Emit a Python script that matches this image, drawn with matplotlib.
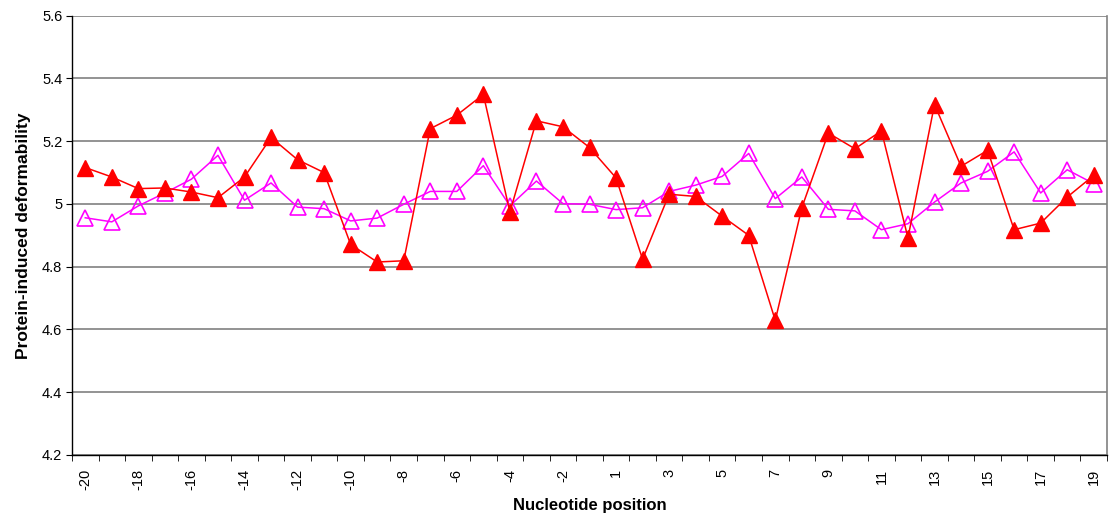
import matplotlib.pyplot as plt
import matplotlib.ticker as mticker
import numpy as np

plt.rcParams["font.family"] = ["Liberation Sans", "DejaVu Sans"]

# nucleotide positions (no 0)
positions = list(range(-20, 0)) + list(range(1, 20))

# filled red triangles
red_vals = [5.116, 5.086, 5.049, 5.051, 5.038, 5.020, 5.086, 5.212, 5.141, 5.100,
            4.871, 4.815, 4.819, 5.240, 5.283, 5.349, 4.974, 5.265, 5.246, 5.180,
            5.083, 4.824, 5.031, 5.024, 4.961, 4.900, 4.629, 4.988, 5.226, 5.176,
            5.233, 4.892, 5.317, 5.120, 5.171, 4.918, 4.939, 5.022, 5.091]

# open magenta triangles
mag_vals = [4.956, 4.943, 4.994, 5.035, 5.079, 5.155, 5.012, 5.067, 4.990, 4.985,
            4.946, 4.955, 4.999, 5.040, 5.040, 5.122, 4.994, 5.073, 5.001, 4.999,
            4.982, 4.988, 5.040, 5.060, 5.088, 5.161, 5.017, 5.086, 4.983, 4.978,
            4.918, 4.937, 5.006, 5.067, 5.104, 5.166, 5.035, 5.109, 5.065]

y_ticks = [4.2, 4.4, 4.6, 4.8, 5.0, 5.2, 5.4, 5.6]

fig = plt.figure(figsize=(11.12, 5.2), dpi=100)
ax = fig.add_axes([72 / 1112, 1 - 455 / 520, (1107 - 72) / 1112, (455 - 15.7) / 520])

x = np.arange(len(positions))

ax.plot(x, mag_vals, color="#ff00ff", lw=1.1, marker="^", ms=12,
        mfc="none", mec="#ff00ff", mew=1.2, zorder=3)
ax.plot(x, red_vals, color="#ff0000", lw=1.1, marker="^", ms=12,
        mfc="#ff0000", mec="#ff0000", zorder=4)

ax.set_xlim(-0.5, len(positions) - 0.5)
ax.set_ylim(4.2, 5.6)

ax.set_yticks(y_ticks)
ax.set_yticklabels([f"{t:g}" for t in y_ticks], fontsize=10.5)
ax.grid(axis="y", color="#808080", lw=1.2, zorder=1)
ax.set_axisbelow(True)

ax.set_xticks(x[::2])
ax.set_xticklabels([str(p) for p in positions[::2]], rotation=90, fontsize=10.5)
ax.xaxis.set_minor_locator(mticker.FixedLocator(np.arange(-0.5, len(positions), 1.0)))
ax.tick_params(axis="x", which="major", length=0, pad=10)
ax.tick_params(axis="x", which="minor", length=4, direction="out", color="black")
ax.tick_params(axis="y", length=4, direction="out", color="black", pad=3)

for side in ("left", "bottom"):
    ax.spines[side].set_color("black")
    ax.spines[side].set_linewidth(1.0)
ax.spines["top"].set_visible(False)
ax.spines["right"].set_color("#808080")
ax.spines["right"].set_linewidth(1.2)

ax.set_xlabel("Nucleotide position", fontsize=12, fontweight="bold", labelpad=6)
ax.set_ylabel("Protein-induced deformability", fontsize=12.5, fontweight="bold", labelpad=8)

fig.savefig("out.png", dpi=100)
